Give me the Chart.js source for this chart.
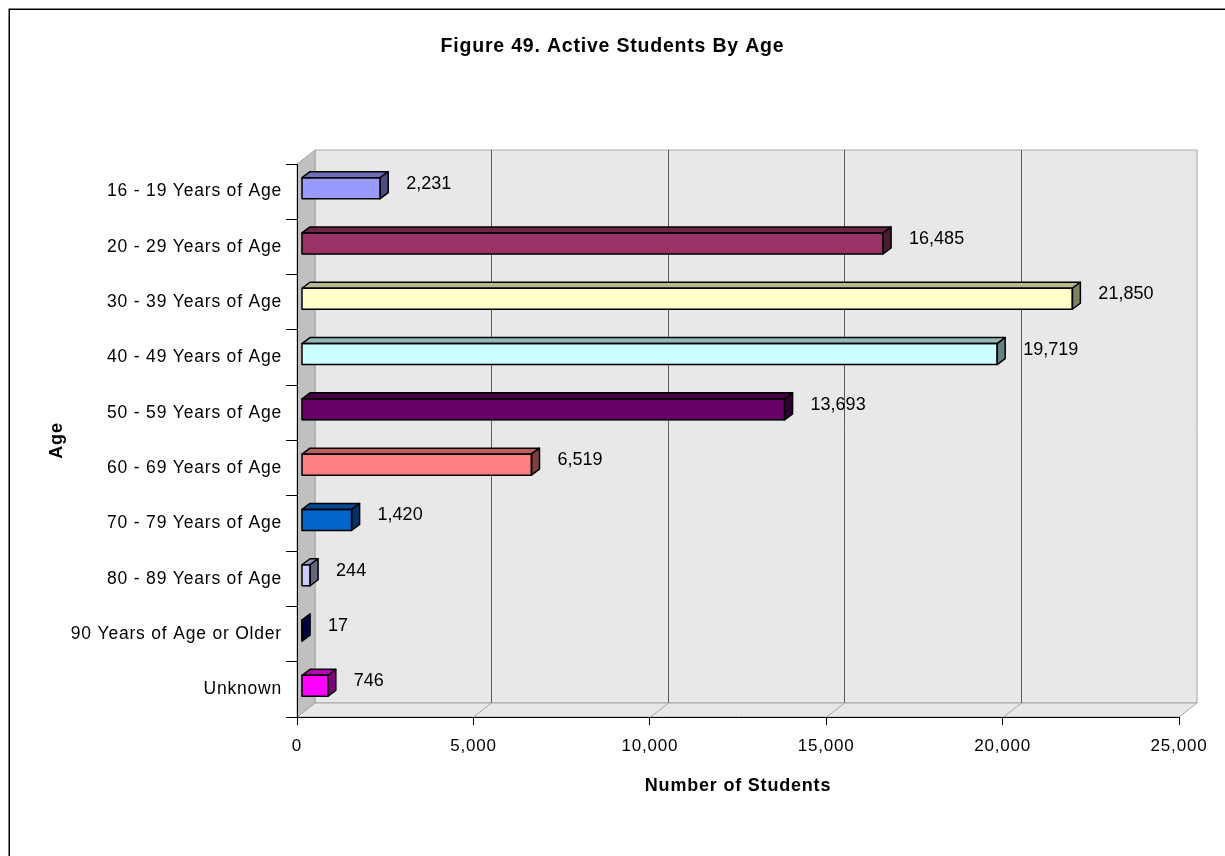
<!DOCTYPE html>
<html>
<head>
<meta charset="utf-8">
<title>Figure 49. Active Students By Age</title>
<script src="https://cdn.jsdelivr.net/npm/chart.js@4"></script>
<style>
  body { margin: 0; background: #fff; }
  canvas { display: block; }
</style>
</head>
<body>
<canvas id="chart" width="1225" height="856"></canvas>
<script>
// data
const ageGroups = [
  '16 - 19 Years of Age', '20 - 29 Years of Age', '30 - 39 Years of Age',
  '40 - 49 Years of Age', '50 - 59 Years of Age', '60 - 69 Years of Age',
  '70 - 79 Years of Age', '80 - 89 Years of Age', '90 Years of Age or Older',
  'Unknown'
];
const students = [2231, 16485, 21850, 19719, 13693, 6519, 1420, 244, 17, 746];
const barColors = ['#9999ff', '#993366', '#ffffcc', '#ccffff', '#660066',
                   '#ff8080', '#0066cc', '#ccccff', '#000080', '#ff00ff'];
const xMax = 25000;
const xStep = 5000;

const FONT = "'Liberation Sans', Arial, sans-serif";
const DX = 18, DY = 14;        // depth of the walls
const BDX = 8, BDY = 6;        // depth of each bar

const fmt = v => v.toLocaleString('en-US');

function shade(hex, f) {
  const n = parseInt(hex.slice(1), 16);
  const r = Math.round(((n >> 16) & 255) * f);
  const g = Math.round(((n >> 8) & 255) * f);
  const b = Math.round((n & 255) * f);
  return `rgb(${r},${g},${b})`;
}

function poly(ctx, pts, fill, stroke, lw) {
  ctx.beginPath();
  ctx.moveTo(pts[0][0], pts[0][1]);
  for (let i = 1; i < pts.length; i++) ctx.lineTo(pts[i][0], pts[i][1]);
  ctx.closePath();
  if (fill) { ctx.fillStyle = fill; ctx.fill(); }
  if (stroke) { ctx.strokeStyle = stroke; ctx.lineWidth = lw || 1; ctx.stroke(); }
}

// walls, floor, 3D bar faces and value labels
const box3d = {
  id: 'box3d',
  beforeLayout(chart) {
    chart.ctx.letterSpacing = '0.8px';
  },
  beforeDraw(chart) {
    const ctx = chart.ctx;
    ctx.letterSpacing = '0.8px';
    const {left, right, top, bottom} = chart.chartArea;
    const x = chart.scales.x;

    ctx.save();
    // outer frame
    ctx.strokeStyle = '#000';
    ctx.lineWidth = 1.5;
    ctx.strokeRect(9.25, 9.25, 1400, 1000);

    // back wall
    poly(ctx, [[left + DX, top - DY], [right + DX, top - DY], [right + DX, bottom - DY], [left + DX, bottom - DY]], '#e8e8e8', '#a6a6a6');
    // floor
    poly(ctx, [[left, bottom], [right, bottom], [right + DX, bottom - DY], [left + DX, bottom - DY]], '#e8e8e8', '#a6a6a6');
    // side wall
    poly(ctx, [[left, top], [left + DX, top - DY], [left + DX, bottom - DY], [left, bottom]], '#c0c0c0', '#a6a6a6');

    // gridlines
    x.ticks.forEach(t => {
      if (t.value <= 0 || t.value >= xMax) return;
      const px = Math.round(x.getPixelForValue(t.value)) + 0.5;
      ctx.strokeStyle = '#5a5a5a';
      ctx.beginPath();
      ctx.moveTo(px + DX, top - DY);
      ctx.lineTo(px + DX, bottom - DY);
      ctx.stroke();
      ctx.strokeStyle = '#a6a6a6';
      ctx.beginPath();
      ctx.moveTo(px + DX, bottom - DY);
      ctx.lineTo(px, bottom);
      ctx.stroke();
    });
    ctx.restore();
  },
  beforeDatasetsDraw(chart) {
    chart.ctx.save();
    chart.ctx.translate(4.5, -3.5);
  },
  afterDatasetsDraw(chart) {
    const ctx = chart.ctx;
    const meta = chart.getDatasetMeta(0);
    ctx.lineJoin = 'round';
    meta.data.forEach((bar, i) => {
      const x0 = bar.base, x1 = bar.x;
      const y0 = bar.y - bar.height / 2, y1 = bar.y + bar.height / 2;
      const c = barColors[i];
      // top face
      poly(ctx, [[x0, y0], [x0 + BDX, y0 - BDY], [x1 + BDX, y0 - BDY], [x1, y0]], shade(c, 0.72), '#000', 1.5);
      // end face
      poly(ctx, [[x1, y0], [x1 + BDX, y0 - BDY], [x1 + BDX, y1 - BDY], [x1, y1]], shade(c, 0.5), '#000', 1.5);
      // front outline
      ctx.strokeStyle = '#000';
      ctx.lineWidth = 1.5;
      ctx.strokeRect(x0, y0, x1 - x0, y1 - y0);

      ctx.fillStyle = '#000';
      ctx.font = `18px ${FONT}`;
      ctx.letterSpacing = '0px';
      ctx.textAlign = 'left';
      ctx.textBaseline = 'middle';
      ctx.fillText(fmt(students[i]), x1 + BDX + 18, bar.y - 4.5);
    });
    ctx.restore();
  }
};

new Chart(document.getElementById('chart'), {
  type: 'bar',
  data: {
    labels: ageGroups,
    datasets: [{
      data: students,
      backgroundColor: barColors,
      borderWidth: 0,
      barThickness: 21
    }]
  },
  options: {
    indexAxis: 'y',
    responsive: false,
    animation: false,
    events: [],
    layout: { padding: { left: 46, right: 46, top: 0, bottom: 0 } },
    plugins: {
      legend: { display: false },
      tooltip: { enabled: false },
      title: {
        display: true,
        text: 'Figure 49. Active Students By Age',
        color: '#000',
        font: { family: FONT, size: 19.5, weight: 'bold' },
        padding: { top: 34.5, bottom: 106.1 }
      }
    },
    scales: {
      x: {
        min: 0,
        max: xMax,
        afterFit: s => { s.height = 139; },
        ticks: {
          stepSize: xStep,
          color: '#000',
          padding: 11,
          maxRotation: 0,
          font: { family: FONT, size: 17 },
          callback: v => fmt(v)
        },
        grid: { drawOnChartArea: false, drawTicks: true, tickLength: 8, color: '#000' },
        border: { display: true, color: '#000' },
        title: {
          display: true,
          text: 'Number of Students',
          color: '#000',
          font: { family: FONT, size: 18, weight: 'bold' },
          padding: { top: 0, bottom: 59 }
        }
      },
      y: {
        afterFit: s => { s.width = 251; },
        ticks: {
          color: '#000',
          padding: 4,
          font: { family: FONT, size: 17.5 }
        },
        grid: { drawOnChartArea: false, drawTicks: true, tickLength: 11, color: '#000', offset: true },
        border: { display: true, color: '#000' },
        title: {
          display: true,
          text: 'Age',
          color: '#000',
          font: { family: FONT, size: 18, weight: 'bold' },
          padding: { top: 0, bottom: 0 }
        }
      }
    }
  },
  plugins: [box3d]
});
</script>
</body>
</html>
